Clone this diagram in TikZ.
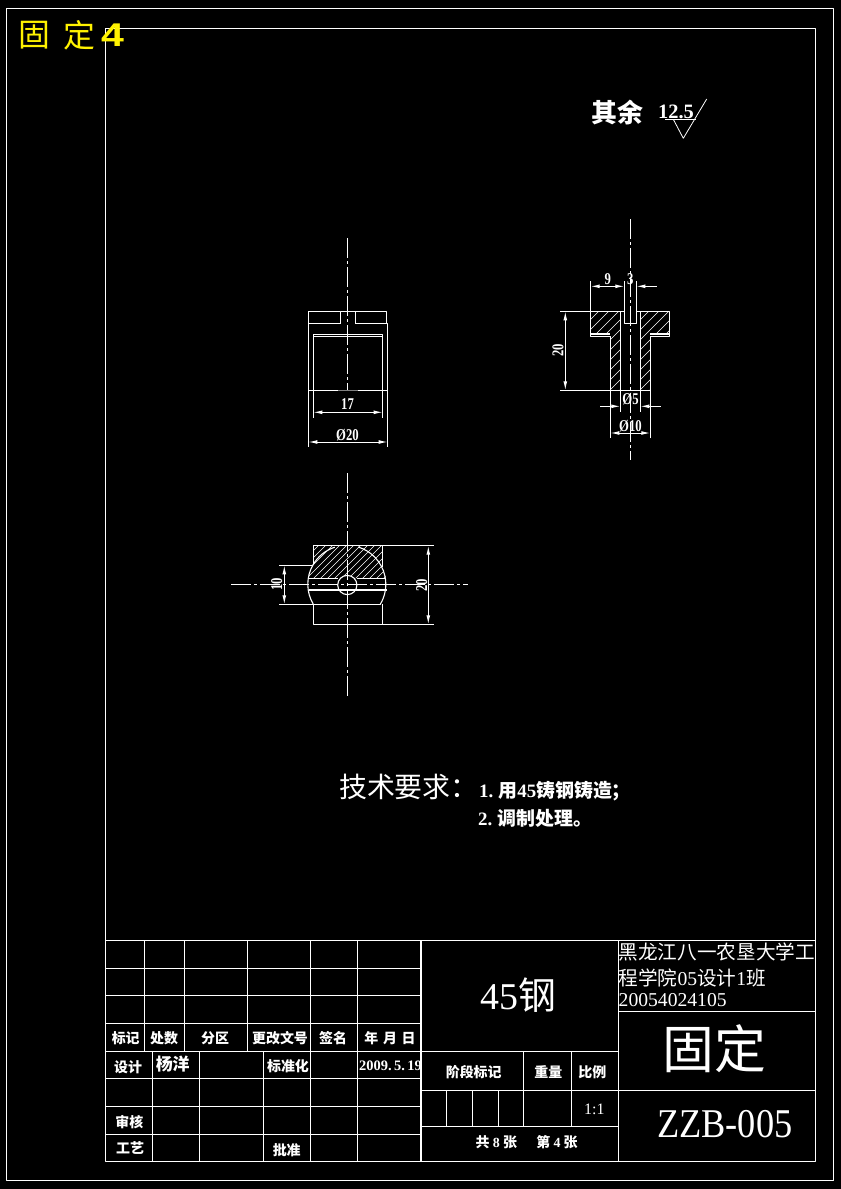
\documentclass[tikz,border=0pt]{standalone}
\usepackage{fontspec}
\setmainfont{Liberation Serif}
\newfontfamily\cjk{Noto Sans CJK SC}
\newfontfamily\arial{Liberation Sans}
\usetikzlibrary{arrows.meta}
\newcommand{\dimnum}[1]{\scalebox{.85}[1.1]{#1}}
\tikzset{
  part/.style={draw=white,line width=1.1bp},
  thin part/.style={draw=white,line width=.8bp},
  centerline/.style={draw=white,line width=1.1bp,dash pattern=on 20bp off 3bp on 3bp off 3bp},
  dimline/.style={draw=white,line width=1bp,<->},
  dimhalf/.style={draw=white,line width=1bp,<-},
  hatchline/.style={draw=white,line width=.6bp},
  dimtext/.style={text=white,inner sep=0pt,font=\bfseries\fontsize{15}{15}\selectfont},
  cell/.style={text=white,inner sep=0pt,font=\cjk\bfseries\fontsize{14}{14}\selectfont},
  note/.style={text=white,inner sep=0pt,anchor=west,font=\bfseries\fontsize{19}{19}\selectfont},
  school/.style={text=white,inner sep=0pt,anchor=west,font=\fontsize{19.7}{19.7}\selectfont},
}
\begin{document}
\begin{tikzpicture}[>={Latex[length=9bp,width=3.8bp]},line join=bevel,x=1bp,y=-1bp]
  % Sheet
  \fill[black] (0,0) rectangle (841,1189);
  \useasboundingbox (0,0) rectangle (841,1189);
  \draw[part] (6.5,8.5) rectangle (833.5,1180.5);
  \draw[part] (105.5,28.5) rectangle (815.5,1161.5);
  \node[text=yellow,inner sep=0pt,font=\cjk\fontsize{32}{32}\selectfont] (tagA) at (34.5,35) {固};
  \node[text=yellow,inner sep=0pt,font=\cjk\fontsize{32}{32}\selectfont] (tagB) at (79,35) {定};
  \node[text=yellow,inner sep=0pt,font=\arial\bfseries\fontsize{33}{33}\selectfont] (tagC) at (112.5,35) {\scalebox{1.25}[1]{4}};
  % Roughness
  \node[text=white,inner sep=0pt,font=\cjk\bfseries\fontsize{26}{26}\selectfont] (rest) at (617.5,113) {其余};
  \node[text=white,inner sep=0pt,font=\bfseries\fontsize{20.5}{20.5}\selectfont] (rough) at (676,112) {12.5};
  \draw[thin part] (665,119.3) -- (695.7,119.3);
  \draw[thin part] (673.3,119.3) -- (683.3,138.3) -- (706.7,99);
  % View: side
  \draw[centerline] (347.3,238) -- (347.3,390.3);
  \draw[part] (340.7,323.3) -- (340.7,311.3) -- (308.3,311.3) -- (308.3,447.3);
  \draw[part] (355.3,323.3) -- (355.3,311.3) -- (386.7,311.3) -- (386.7,323.3);
  \draw[part] (340.7,311.3) -- (355.3,311.3);
  \draw[part] (308.3,323.3) -- (340.7,323.3) (355.3,323.3) -- (387.7,323.3) -- (387.7,447.3);
  \draw[part] (313.3,417.7) -- (313.3,334.3) -- (382.7,334.3) -- (382.7,417.7);
  \draw[part] (313.3,336.7) -- (382.7,336.7);
  \draw[part] (308.3,390.3) -- (387.7,390.3);
  \draw[draw=gray,line width=1bp] (338,390.3) -- (358,390.3);
  \draw[dimline] (313.3,412.3) -- (382.7,412.3);
  \node[dimtext] (dimS) at (347.5,404.5) {\dimnum{17}};
  \draw[dimline] (308.3,442) -- (387.7,442);
  \node[dimtext] (dimT) at (347.5,435.5) {\dimnum{Ø20}};
  % View: section
  \begin{scope}
    \clip (590.7,311.3) -- (620.3,311.3) -- (620.3,390.3) -- (610.3,390.3) -- (610.3,334) -- (590.7,334) -- cycle
          (640.3,311.3) -- (669.7,311.3) -- (669.7,334) -- (650.3,334) -- (650.3,390.3) -- (640.3,390.3) -- cycle;
    \foreach \i in {600,610,...,780}
      \draw[hatchline] (\i,300) -- ++(-100,100);
  \end{scope}
  \draw[centerline] (630.3,219) -- (630.3,460);
  \draw[part] (590.7,281) -- (590.7,336.7) -- (610.3,336.7) -- (610.3,438.3);
  \draw[part] (650.3,438.3) -- (650.3,336.7) -- (669.7,336.7) -- (669.7,311.3) -- (636.3,311.3);
  \draw[part] (560,311.3) -- (624.3,311.3);
  \draw[part] (590.7,334) -- (610.3,334) (650.3,334) -- (669.7,334);
  \draw[part] (560,390.3) -- (650.3,390.3);
  \draw[part] (620.3,311.3) -- (620.3,411.7) (640.3,311.3) -- (640.3,411.7);
  \draw[part] (624.3,281) -- (624.3,323.3) -- (636.3,323.3) -- (636.3,281);
  \draw[dimline] (590.7,286.3) -- (624.3,286.3);
  \draw[dimhalf] (636.3,286.3) -- (656.7,286.3);
  \node[dimtext] (dimN) at (607.7,279) {\dimnum{9}};
  \node[dimtext] (dimH) at (630.3,279) {\dimnum{3}};
  \draw[dimline] (565.3,311.3) -- (565.3,390.3);
  \node[dimtext,rotate=90] (dimL) at (558,350) {\dimnum{20}};
  \draw[dimhalf] (620.3,406.3) -- (600,406.3);
  \draw[dimhalf] (640.3,406.3) -- (660.7,406.3);
  \node[dimtext] (dimB) at (630.5,399) {\dimnum{Ø5}};
  \draw[dimline] (610.3,433) -- (650.3,433);
  \node[dimtext] (dimD) at (630.5,426) {\dimnum{Ø10}};
  % View: top
  \begin{scope}
    \clip (346.8,584.3) ++(188.8:39) arc[start angle=188.8,end angle=210.5,radius=39]
      -- (313.3,545.7) -- (382.3,545.7) -- (382.3,566.7)
      arc[start angle=333.3,end angle=351.2,radius=39] -- cycle;
    \foreach \i in {320,327,...,440}
      \draw[hatchline] (\i,530) -- ++(-70,70);
  \end{scope}
  \fill[black] (347.3,585) circle[radius=9.6];
  \draw[part] (347.3,585) circle[radius=9.6];
  \draw[centerline] (347.3,473.3) -- (347.3,696.7);
  \draw[centerline] (231,584.3) -- (467.7,584.3);
  \draw[part] (313.3,565.3) -- (313.3,545.7) -- (433.7,545.7);
  \draw[part] (382.3,545.7) -- (382.3,567);
  \draw[part] (346.8,584.3) ++(149.5:39) arc[start angle=149.5,end angle=252,radius=39];
  \draw[part] (346.8,584.3) ++(287:39) arc[start angle=287,end angle=391.5,radius=39];
  \draw[part] (279,565.3) -- (313.3,565.3);
  \draw[part] (279,604.3) -- (380,604.3);
  \draw[part] (313.3,604.3) -- (313.3,624.3) -- (433.7,624.3);
  \draw[part] (382.3,604.3) -- (382.3,624.3);
  \draw[part] (308.5,578.3) -- (337.5,578.3) (357,578.3) -- (385.5,578.3);
  \draw[part] (308.5,590) -- (386.5,590);
  \draw[dimline] (284.3,565.3) -- (284.3,604.3);
  \node[dimtext,rotate=90] (dimE) at (276.7,584) {\dimnum{10}};
  \draw[dimline] (428.3,545.7) -- (428.3,624.3);
  \node[dimtext,rotate=90] (dimW) at (421.7,585) {\dimnum{20}};
  % Notes
  \node[text=white,inner sep=0pt,anchor=west,font=\cjk\fontsize{28}{28}\selectfont] (reqT) at (339,786.7) {技术要求：};
  \node[note] (reqA) at (479,790.7) {1.\kern5bp{\cjk 用}45{\cjk 铸钢铸造；}};
  \node[note] (reqB) at (478,818) {2.\kern5bp{\cjk 调制处理。}};
  % Title block
  \foreach \y in {940.3,968.3,995.7,1023.7,1051.3}
    \draw[part] (105.5,\y) -- (421,\y);
  \foreach \x in {144.3,184.3,247.3,310.3,357.3}
    \draw[part] (\x,940.3) -- (\x,1051.3);
  \foreach \y in {1078.7,1106.7,1134.3}
    \draw[part] (105.5,\y) -- (421,\y);
  \foreach \x in {152.3,199.3,263.3,310.3,357.3}
    \draw[part] (\x,1051.3) -- (\x,1161.5);
  \draw[part] (421,940.3) -- (421,1161.5);
  \draw[part] (421,940.3) -- (815.5,940.3);
  \draw[part] (618.3,940.3) -- (618.3,1161.5);
  \draw[part] (618.3,1011.3) -- (815.5,1011.3);
  \draw[part] (421,1051.3) -- (618.3,1051.3);
  \draw[part] (421,1090.3) -- (815.5,1090.3);
  \draw[part] (421,1126.3) -- (618.3,1126.3);
  \foreach \x in {523.3,571.3}
    \draw[part] (\x,1051.3) -- (\x,1126.3);
  \foreach \x in {446.7,472.3,498.3}
    \draw[part] (\x,1090.3) -- (\x,1126.3);
  \node[cell] (cellA) at (125.7,1038) {标记};
  \node[cell] (cellB) at (164,1038) {处数};
  \node[cell] (cellC) at (215,1038) {分区};
  \node[cell] (cellD) at (280,1038) {更改文号};
  \node[cell] (cellE) at (333,1038) {签名};
  \node[cell] (cellF) at (390,1038) {年\,\,月\,\,日};
  \node[cell] (cellG) at (128,1067) {设计};
  \node[cell,font=\cjk\bfseries\fontsize{17}{17}\selectfont] (cellH) at (172.7,1064) {杨洋};
  \node[cell] (cellI) at (288,1066) {标准化};
  \node[dimtext,font=\bfseries\fontsize{14.5}{14.5}\selectfont] (cellJ) at (390.5,1066) {2009.\,5.\,19};
  \node[cell] (cellK) at (129.3,1121.7) {审核};
  \node[cell] (cellL) at (130,1148) {工艺};
  \node[cell] (cellM) at (286.7,1150) {批准};
  \node[cell] (cellN) at (473.7,1072.3) {阶段标记};
  \node[cell] (cellO) at (548.3,1072.3) {重量};
  \node[cell] (cellP) at (592.3,1072.3) {比例};
  \node[dimtext,font=\fontsize{16}{16}\selectfont] (cellQ) at (594.3,1109) {1:1};
  \node[cell] (cellR) at (526.7,1142.3) {共 {\rmfamily 8} 张\quad\, 第 {\rmfamily 4} 张};
  \node[text=white,inner sep=0pt,font=\fontsize{38}{38}\selectfont] (material) at (518,995) {45{\cjk 钢}};
  \node[school] (schoolA) at (618.5,952) {\cjk 黑龙江八一农垦大学工};
  \node[school] (schoolB) at (618.5,977.7) {{\cjk 程学院}05{\cjk 设计}1{\cjk 班}};
  \node[school] (schoolC) at (618.5,1000) {20054024105};
  \node[text=white,inner sep=0pt,font=\cjk\fontsize{52}{52}\selectfont] (name) at (714,1049) {固定};
  \node[text=white,inner sep=0pt,font=\fontsize{41}{41}\selectfont] (code) at (724.7,1124.5) {\scalebox{.89}[1]{ZZB-005}};
\end{tikzpicture}
\end{document}
